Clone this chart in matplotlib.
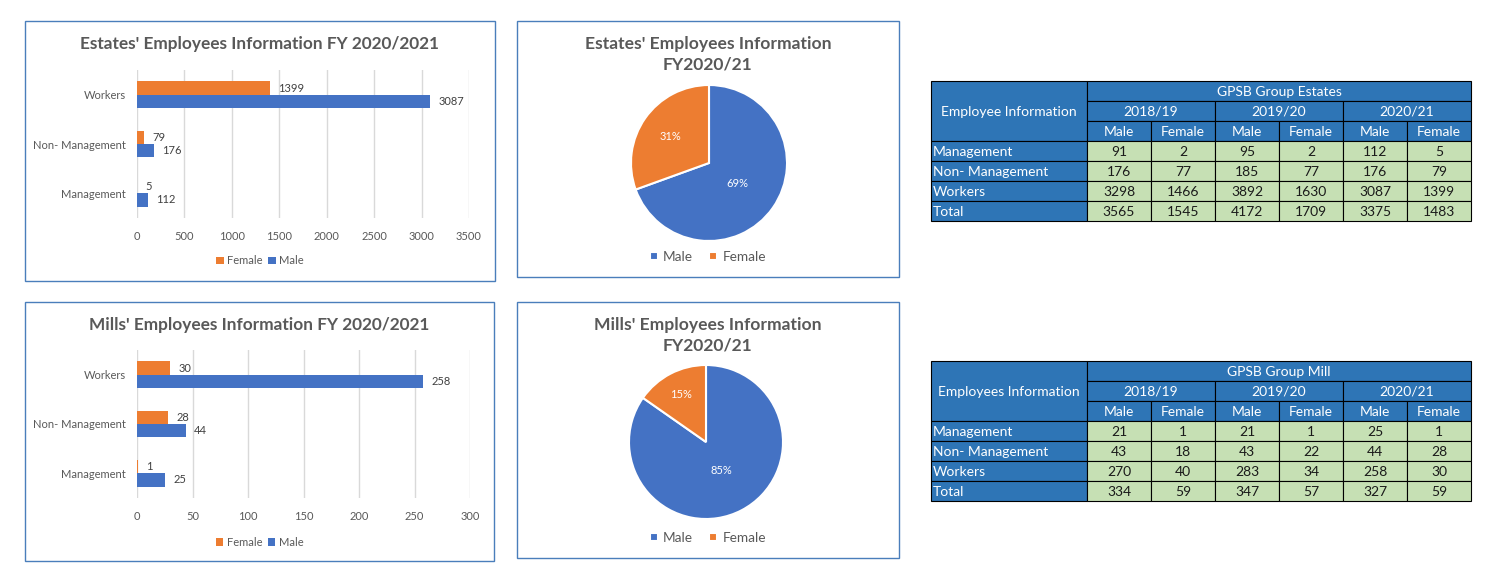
import matplotlib
matplotlib.use("Agg")
import matplotlib.pyplot as plt
from matplotlib.patches import Rectangle
import numpy as np

plt.rcParams["font.family"] = ["Lato", "DejaVu Sans"]

W, H = 1499, 581

# ---- data ----
categories = ["Management", "Non- Management", "Workers"]
table_rows = ["Management", "Non- Management", "Workers", "Total"]
years = ["2018/19", "2019/20", "2020/21"]
genders = ["Male", "Female"]

# columns: 18/19 M, F, 19/20 M, F, 20/21 M, F
estate_values = [
    [91, 2, 95, 2, 112, 5],
    [176, 77, 185, 77, 176, 79],
    [3298, 1466, 3892, 1630, 3087, 1399],
    [3565, 1545, 4172, 1709, 3375, 1483],
]
mill_values = [
    [21, 1, 21, 1, 25, 1],
    [43, 18, 43, 22, 44, 28],
    [270, 40, 283, 34, 258, 30],
    [334, 59, 347, 57, 327, 59],
]

estate_male = [112, 176, 3087]
estate_female = [5, 79, 1399]
mill_male = [25, 44, 258]
mill_female = [1, 28, 30]

estate_pie = [3375, 1483]   # Male, Female
mill_pie = [327, 59]

BLUE = "#4472C4"
ORANGE = "#ED7D31"
GRAY = "#595959"
BOX = "#4A7EBB"
HDR = "#2E75B6"
GREEN = "#C6E0B4"

fig = plt.figure(figsize=(W / 100, H / 100), dpi=100)

# overlay axes in pixel coordinates for boxes and tables
bg = fig.add_axes([0, 0, 1, 1])
bg.set_xlim(0, W)
bg.set_ylim(H, 0)
bg.axis("off")


def px_axes(x0, y0, x1, y1):
    return fig.add_axes([x0 / W, 1 - y1 / H, (x1 - x0) / W, (y1 - y0) / H])


def box(x0, y0, x1, y1):
    bg.add_patch(Rectangle((x0, y0), x1 - x0, y1 - y0, fill=False,
                           edgecolor=BOX, linewidth=1.0))


def bar_chart(box_xy, plot_xy, title, male, female, xmax, step):
    bx0, by0, bx1, by1 = box_xy
    box(*box_xy)
    ax = px_axes(*plot_xy)
    ax.set_facecolor("none")
    y = np.arange(len(categories))
    h = 0.27
    cf = ax.barh(y + h / 2, female, height=h, color=ORANGE, label="Female")
    cm = ax.barh(y - h / 2, male, height=h, color=BLUE, label="Male")
    ax.bar_label(cf, padding=6, fontsize=8, color="#404040")
    ax.bar_label(cm, padding=6, fontsize=8, color="#404040")
    ax.set_ylim(-0.5, len(categories) - 0.5)
    ax.set_xlim(0, xmax)
    ax.set_xticks(np.arange(0, xmax + 1, step))
    ax.set_yticks(y)
    ax.set_yticklabels(categories)
    ax.tick_params(axis="both", length=0, labelsize=8, labelcolor=GRAY)
    ax.tick_params(axis="y", pad=8)
    ax.tick_params(axis="x", pad=9)
    ax.xaxis.grid(True, color="#D9D9D9", linewidth=1)
    ax.set_axisbelow(True)
    for s in ax.spines.values():
        s.set_visible(False)
    cx = (bx0 + bx1) / 2
    bg.text(cx, by0 + 23, title, ha="center", va="center", fontsize=12.4,
            fontweight="bold", color=GRAY)
    ax.legend(handles=[cf, cm], loc="center", ncol=2, frameon=False,
              bbox_to_anchor=(cx / W, 1 - (by0 + 240) / H),
              bbox_transform=fig.transFigure, fontsize=8,
              labelcolor=GRAY, handlelength=0.7, handleheight=0.7,
              handletextpad=0.3, columnspacing=0.5)


def pie_chart(box_xy, centre, radius, title, values, dists):
    bx0, by0, bx1, by1 = box_xy
    box(*box_xy)
    cx, cy = centre
    ax = px_axes(cx - radius, cy - radius, cx + radius, cy + radius)
    wedges, _ = ax.pie(values, colors=[BLUE, ORANGE], startangle=90,
                       counterclock=False, radius=1,
                       wedgeprops=dict(edgecolor="white", linewidth=1.5))
    total = sum(values)
    for w, v, d in zip(wedges, values, dists):
        ang = np.deg2rad((w.theta1 + w.theta2) / 2)
        ax.text(d * np.cos(ang), d * np.sin(ang), f"{v / total:.0%}",
                ha="center", va="center", fontsize=8, color="white")
    ax.set_xlim(-1, 1)
    ax.set_ylim(-1, 1)
    ax.set_aspect("equal")
    mx = (bx0 + bx1) / 2
    bg.text(mx, by0 + 33, title, ha="center", va="center", fontsize=12.6,
            fontweight="bold", color=GRAY, linespacing=1.35)
    ax.legend(wedges, genders, loc="center", ncol=2, frameon=False,
              bbox_to_anchor=(mx / W, 1 - (by0 + 236) / H),
              bbox_transform=fig.transFigure, fontsize=9.8,
              labelcolor=GRAY, handlelength=0.55, handleheight=0.55,
              handletextpad=0.4, columnspacing=1.2)


def cell(x0, y0, x1, y1, text, fill, color, ha="center"):
    bg.add_patch(Rectangle((x0, y0), x1 - x0, y1 - y0, facecolor=fill,
                           edgecolor="black", linewidth=0.8))
    tx = (x0 + x1) / 2 if ha == "center" else x0 + 2
    bg.text(tx, (y0 + y1) / 2 + 0.5, text, ha=ha, va="center",
            fontsize=10, color=color)


def table(y0, title, first_header, values):
    xs = [931, 1087, 1151, 1215, 1279, 1343, 1407, 1471]
    rh = 20
    cell(xs[0], y0, xs[1], y0 + 3 * rh, first_header, HDR, "white")
    cell(xs[1], y0, xs[-1], y0 + rh, title, HDR, "white")
    for k, yr in enumerate(years):
        cell(xs[1 + 2 * k], y0 + rh, xs[3 + 2 * k], y0 + 2 * rh, yr, HDR, "white")
        for g, gn in enumerate(genders):
            c = 1 + 2 * k + g
            cell(xs[c], y0 + 2 * rh, xs[c + 1], y0 + 3 * rh, gn, HDR, "white")
    for r, (name, row) in enumerate(zip(table_rows, values)):
        ry = y0 + (3 + r) * rh
        cell(xs[0], ry, xs[1], ry + rh, name, HDR, "white", ha="left")
        for c, v in enumerate(row):
            cell(xs[c + 1], ry, xs[c + 2], ry + rh, str(v), GREEN, "#1A1A1A")


bar_chart((25, 21, 495, 281), (137, 70, 469, 218),
          "Estates' Employees Information FY 2020/2021",
          estate_male, estate_female, 3500, 500)
bar_chart((25, 302, 494, 561), (137, 350, 470, 498),
          "Mills' Employees Information FY 2020/2021",
          mill_male, mill_female, 300, 50)

pie_chart((517, 21, 899, 277), (709, 163), 78,
          "Estates' Employees Information\nFY2020/21", estate_pie, [0.45, 0.6])
pie_chart((517, 302, 899, 558), (706, 442), 77,
          "Mills' Employees Information\nFY2020/21", mill_pie, [0.42, 0.7])

table(81, "GPSB Group Estates", "Employee Information", estate_values)
table(361, "GPSB Group Mill", "Employees Information", mill_values)

fig.savefig("out.png", dpi=100)
